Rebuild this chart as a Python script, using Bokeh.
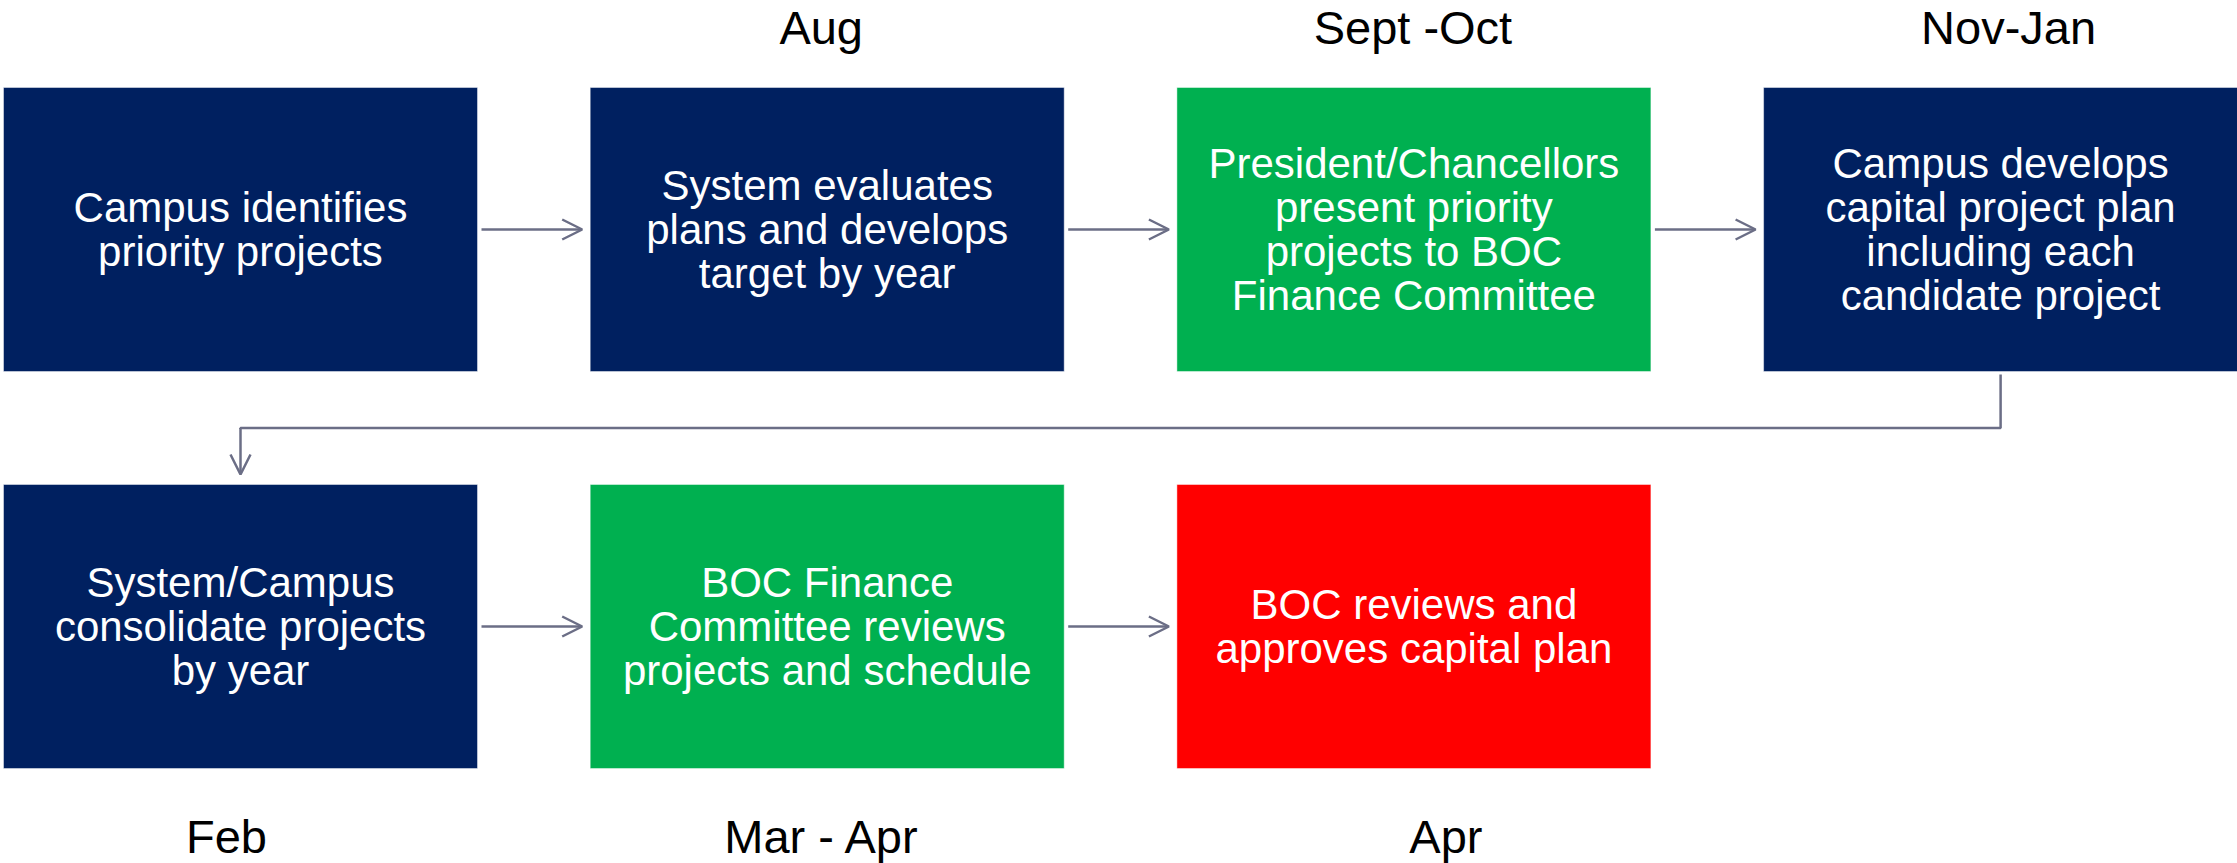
from bokeh.plotting import figure
from bokeh.models import ColumnDataSource, Range1d, Arrow, OpenHead
from bokeh.core.properties import value
from bokeh.embed import file_html
from bokeh.resources import INLINE

# ---------------- data ----------------
steps = [
    "Campus identifies\npriority projects",
    "System evaluates\nplans and develops\ntarget by year",
    "President/Chancellors\npresent priority\nprojects to BOC\nFinance Committee",
    "Campus develops\ncapital project plan\nincluding each\ncandidate project",
    "System/Campus\nconsolidate projects\nby year",
    "BOC Finance\nCommittee reviews\nprojects and schedule",
    "BOC reviews and\napproves capital plan",
]
step_group = ["planning", "planning", "committee", "planning", "planning", "committee", "board"]
periods = ["", "Aug", "Sept -Oct", "Nov-Jan", "Feb", "Mar - Apr", "Apr"]

# ---------------- layout / style ----------------
group_color = {"planning": "#002060", "committee": "#00B050", "board": "#FF0000"}
step_row = [0, 0, 0, 0, 1, 1, 1]
step_col = [0, 1, 2, 3, 0, 1, 2]
X0, PITCH, BOX_W = 3.0, 586.7, 474.0
ROW_TOP = [87.0, 484.0]
BOX_H = 284.0
period_dx = [0, -6, -1, 8, -14, -5, 32]
PERIOD_MID = [27.0, 836.0]   # vertical centre of the period labels
ARROW_C = "#6B6E86"
FONT = "Liberation Sans"
W, H = 2237, 863

left = [X0 + c * PITCH for c in step_col]
right = [l + BOX_W for l in left]
top = [ROW_TOP[r] for r in step_row]
bottom = [t + BOX_H for t in top]
cx = [(l + r) / 2 for l, r in zip(left, right)]
cy = [(t + b) / 2 for t, b in zip(top, bottom)]

boxes = ColumnDataSource(dict(
    left=left, right=right, top=top, bottom=bottom, cx=cx, cy=cy,
    text=steps, color=[group_color[g] for g in step_group],
))

p = figure(width=W, height=H, x_range=Range1d(0, W), y_range=Range1d(H, 0),
           output_backend="svg", toolbar_location=None, min_border=0,
           x_axis_type=None, y_axis_type=None, outline_line_color=None,
           background_fill_color="white", border_fill_color="white")
p.grid.visible = False

p.quad(left="left", right="right", top="top", bottom="bottom", source=boxes,
       fill_color="color", line_color="white", line_alpha=0.45, line_width=1)

p.text(x="cx", y="cy", text="text", source=boxes, text_color="white",
       text_font=value(FONT), text_font_size="42px", text_align="center",
       text_baseline="middle", text_line_height=0.93)

# period labels
lab_x, lab_y, lab_t = [], [], []
for i, t in enumerate(periods):
    if t:
        lab_x.append(cx[i] + period_dx[i])
        lab_y.append(PERIOD_MID[step_row[i]])
        lab_t.append(t)
p.text(x=lab_x, y=lab_y, text=lab_t, text_color="black", text_font=value(FONT),
       text_font_size="47px", text_align="center", text_baseline="middle",
       text_line_height=1.0)

# straight arrows within a row, elbow connector between rows
xs, ys, xe, ye = [], [], [], []
for i in range(len(steps) - 1):
    if step_row[i] == step_row[i + 1]:
        xs.append(right[i] + 4); ys.append(cy[i])
        xe.append(left[i + 1] - 8); ye.append(cy[i + 1])
    else:
        mid_y = (bottom[i] + top[i + 1]) / 2
        p.line(x=[cx[i], cx[i], cx[i + 1], cx[i + 1]],
               y=[bottom[i] + 3, mid_y, mid_y, mid_y + 1],
               line_color=ARROW_C, line_width=2.5)
        xs.append(cx[i + 1]); ys.append(mid_y)
        xe.append(cx[i + 1]); ye.append(top[i + 1] - 10)
arrows = ColumnDataSource(dict(xs=xs, ys=ys, xe=xe, ye=ye))
p.add_layout(Arrow(end=OpenHead(size=20, line_color=ARROW_C, line_width=2.5),
                   x_start="xs", y_start="ys", x_end="xe", y_end="ye", source=arrows,
                   line_color=ARROW_C, line_width=2.5))

open("out.html", "w").write(file_html(p, INLINE))
